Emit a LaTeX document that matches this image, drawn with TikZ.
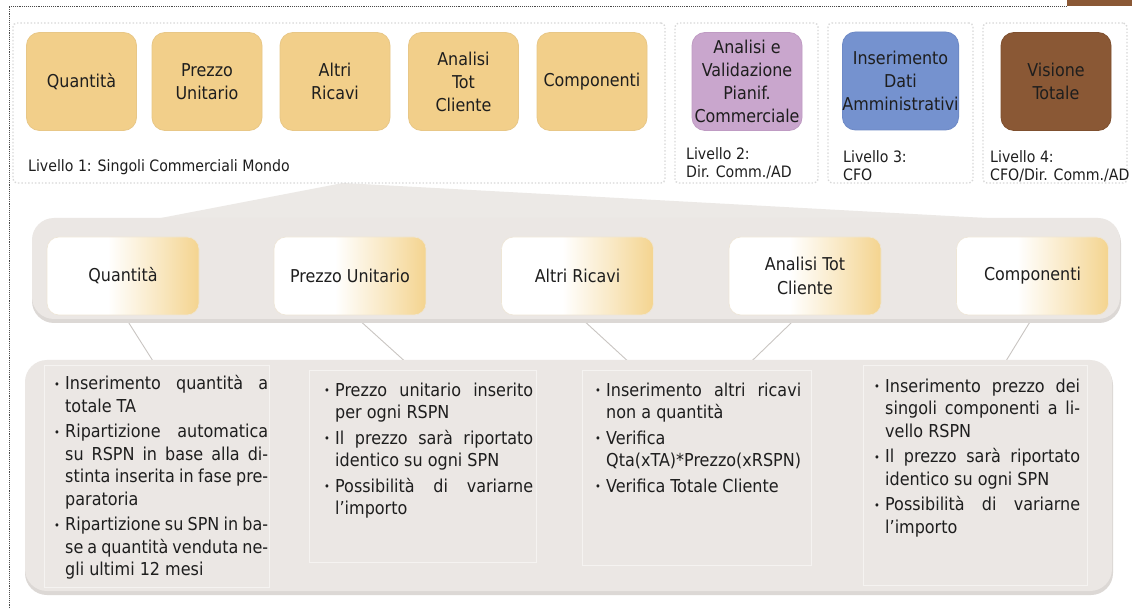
\documentclass[tikz,border=0pt]{standalone}
\usepackage{fontspec}
\setmainfont{DejaVu Sans Condensed}
\usetikzlibrary{calc}
\definecolor{orgT}{HTML}{F2CF8A}
\definecolor{orgB}{HTML}{E8C787}
\definecolor{purp}{HTML}{C9A6CD}
\definecolor{purpB}{HTML}{BF9BC3}
\definecolor{blu}{HTML}{7592CF}
\definecolor{bluB}{HTML}{6D89C6}
\definecolor{brn}{HTML}{8A5835}
\definecolor{brnB}{HTML}{7F502F}
\definecolor{bandG}{HTML}{EBE7E4}
\definecolor{bandS}{HTML}{DCD8D5}
\definecolor{trapG}{HTML}{ECE9E6}
\definecolor{colB}{HTML}{F5F3F1}
\definecolor{lineG}{HTML}{C9C5C2}
\definecolor{dotG}{HTML}{D8D8D8}
\definecolor{outerG}{HTML}{4A4A4A}
\definecolor{txt}{HTML}{1E1E1E}
\definecolor{orgM}{HTML}{F4D48F}
\definecolor{midB}{HTML}{EEE6D6}
\pgfdeclarehorizontalshading{wo}{100bp}{color(0bp)=(white); color(25bp)=(white); color(45bp)=(white); color(62bp)=(orgM!55!white); color(75bp)=(orgM); color(100bp)=(orgM)}
\pgfdeclarelayer{back}
\pgfdeclarelayer{lines}
\pgfdeclarelayer{bands}
\pgfsetlayers{back,lines,bands,main}
\newcommand\B{\makebox[11pt][l]{\raisebox{1.5pt}{\fontsize{11}{11}\selectfont •}}}
\newcommand\I{\hspace*{11pt}}
\newcommand\J[2][203pt]{\makebox[#1][s]{#2}}
\begin{document}
\begin{tikzpicture}[x=1pt,y=-1pt,
  topbox/.style={rounded corners=13pt, minimum width=110pt, minimum height=98pt, inner sep=0pt, align=center, font=\fontsize{17.7}{23}\selectfont, text=txt, line width=0.8pt},
  midbox/.style={rounded corners=12pt, minimum width=152pt, minimum height=78pt, inner sep=0pt, align=center, shade, shading=wo, draw=midB, line width=0.6pt, font=\fontsize{17.7}{24}\selectfont, text=txt},
  lvl/.style={draw=dotG, dotted, line width=1.4pt, rounded corners=4pt, fill=white, inner sep=0pt},
  lbl/.style={inner sep=0pt, align=left, font=\fontsize{15.7}{18}\selectfont, text=txt},
  colbox/.style={fill=bandG, draw=colB, line width=1pt, inner sep=0pt, anchor=north west},
  coltxt/.style={inner sep=0pt, anchor=north west, align=left, font=\fontsize{17.8}{22.5}\selectfont, text=txt},
  conn/.style={draw=lineG, line width=0.9pt},
  outer/.style={draw=outerG, densely dotted, line width=0.9pt}]
\useasboundingbox (0,0) rectangle (1132,609);
\begin{pgfonlayer}{back}
\fill[white] (0,0) rectangle (1132,609);
\fill[brn] (1067,-4) rectangle (1136,6);
\draw[outer] (9,612) -- (9,6) -- (1067,6);
\end{pgfonlayer}

% level containers
\node[lvl, minimum width=652pt, minimum height=160pt] (L1) at (339,103) {};
\node[lvl, minimum width=143pt, minimum height=160pt] (L2) at (746.5,103) {};
\node[lvl, minimum width=145pt, minimum height=160pt] (L3) at (900.5,103) {};
\node[lvl, minimum width=144pt, minimum height=160pt] (L4) at (1055,103) {};

% top boxes
\node[topbox, fill=orgT, draw=orgB] (t1) at (81.5,81.5) {Quantità};
\node[topbox, fill=orgT, draw=orgB] (t2) at (207,81.5) {Prezzo\\Unitario};
\node[topbox, fill=orgT, draw=orgB] (t3) at (335,81.5) {Altri\\Ricavi};
\node[topbox, fill=orgT, draw=orgB] (t4) at (463.5,81.5) {Analisi\\Tot\\Cliente};
\node[topbox, fill=orgT, draw=orgB] (t5) at (592,81.5) {Componenti};
\node[topbox, fill=purp, draw=purpB] (t6) at (747,81.5) {Analisi e\\Validazione\\Pianif.\\Commerciale};
\node[topbox, fill=blu, draw=bluB] (t7) at (900.5,81) {Inserimento\\Dati\\Amministrativi};
\node[topbox, fill=brn, draw=brnB] (t8) at (1056,81.5) {Visione\\Totale};

% level labels
\node[lbl, anchor=base west] (l1) at (28,172) {Livello 1: Singoli Commerciali Mondo};
\node[lbl, anchor=north west] (l2) at (686,147) {Livello 2:\\Dir. Comm./AD};
\node[lbl, anchor=north west] (l3) at (843,150) {Livello 3:\\CFO};
\node[lbl, anchor=north west] (l4) at (990,150) {Livello 4:\\CFO/Dir. Comm./AD};

% bands
\begin{pgfonlayer}{bands}
\fill[trapG] (343,183) -- (140,222) -- (1060,222) -- cycle;
\fill[bandS, rounded corners=22pt] (32,221) rectangle (1121,323);
\fill[bandG, rounded corners=22pt] (32,218) rectangle (1120,319);
\fill[bandS, rounded corners=22pt] (25,363) rectangle (1113,595);
\fill[bandG, rounded corners=22pt] (25,360) rectangle (1112,591);
\end{pgfonlayer}

% middle boxes
\node[midbox] (m1) at (123,276) {Quantità};
\node[midbox] (m2) at (350,276) {Prezzo Unitario};
\node[midbox] (m3) at (577.5,276) {Altri Ricavi};
\node[midbox] (m4) at (805,276) {Analisi Tot\\Cliente};
\node[midbox] (m5) at (1032.5,276) {Componenti};

% columns
\node[colbox, minimum width=225pt, minimum height=222pt] (c1) at (44,365) {};
\node[colbox, minimum width=227pt, minimum height=192pt] (c2) at (309,370) {};
\node[colbox, minimum width=229pt, minimum height=195pt] (c3) at (582,370) {};
\node[colbox, minimum width=224pt, minimum height=220pt] (c4) at (863,365) {};

% connectors
\begin{pgfonlayer}{lines}
\draw[conn] ([xshift=1pt]m1.south) -- ([xshift=-1.5pt]c1.north);
\draw[conn] ([xshift=4pt]m2.south) -- ([xshift=-8.5pt]c2.north);
\draw[conn] ([xshift=0.5pt]m3.south) -- ([xshift=-59.5pt]c3.north);
\draw[conn] ([xshift=-6pt]m4.south) -- ([xshift=45.5pt]c3.north);
\draw[conn] ([xshift=1.5pt]m5.south) -- ([xshift=28pt]c4.north);
\end{pgfonlayer}

% column texts
\node[coltxt] (x1) at (54,375.5) {%
\B\J{Inserimento quantità a}\\
\I totale TA\\[3pt]
\B\J{Ripartizione automatica}\\
\I\J{su RSPN in base alla di-}\\
\I\J{stinta inserita in fase pre-}\\
\I paratoria\\[3pt]
\B\J{Ripartizione su SPN in ba-}\\
\I\J{se a quantità venduta ne-}\\
\I gli ultimi 12 mesi};

\node[coltxt] (x2) at (324,382.5) {%
\B\J[198pt]{Prezzo unitario inserito}\\
\I per ogni RSPN\\[3pt]
\B\J[198pt]{Il prezzo sarà riportato}\\
\I identico su ogni SPN\\[3pt]
\B\J[198pt]{Possibilità di variarne}\\
\I l’importo};

\node[coltxt] (x3) at (595,382.5) {%
\B\J[195pt]{Inserimento altri ricavi}\\
\I non a quantità\\[3pt]
\B Verifica\\
\I Qta(xTA)*Prezzo(xRSPN)\\[3pt]
\B Verifica Totale Cliente};

\node[coltxt] (x4) at (874,378.5) {%
\B\J[195pt]{Inserimento prezzo dei}\\
\I\J[195pt]{singoli componenti a li-}\\
\I vello RSPN\\[3pt]
\B\J[195pt]{Il prezzo sarà riportato}\\
\I identico su ogni SPN\\[3pt]
\B\J[195pt]{Possibilità di variarne}\\
\I l’importo};
\end{tikzpicture}
\end{document}
